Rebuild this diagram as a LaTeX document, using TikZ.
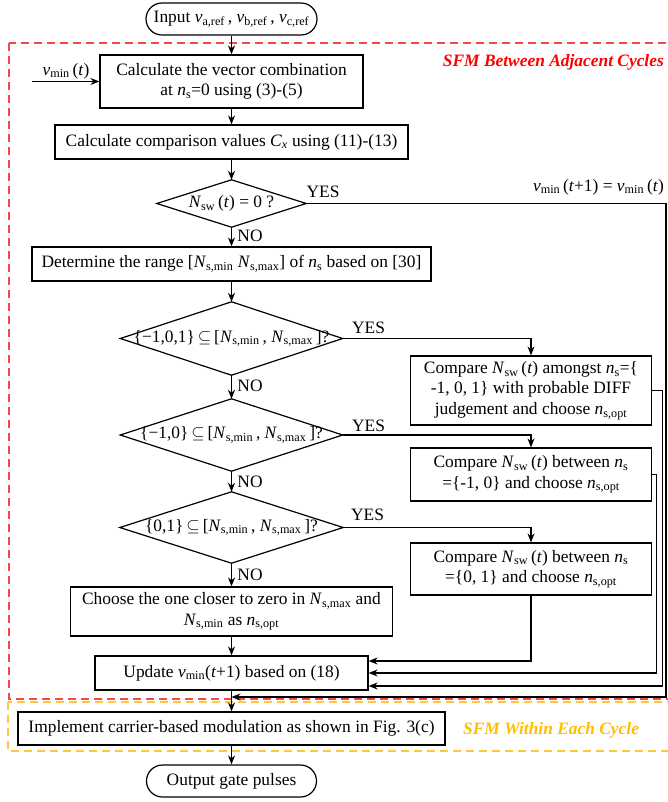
\documentclass[tikz,border=0pt]{standalone}
\usepackage{fontspec}
\setmainfont{Liberation Serif}
\usetikzlibrary{arrows.meta}
\definecolor{sfmred}{RGB}{255,0,0}
\definecolor{sfmredline}{RGB}{250,70,70}
\definecolor{sfmyel}{RGB}{255,190,0}
\definecolor{sfmyelline}{RGB}{255,200,60}
\newcommand{\ivar}[2]{\textit{#1}\textsubscript{#2}}
\begin{document}
\begin{tikzpicture}[x=1pt,y=-1pt,
  font=\fontsize{17.4}{20.5}\selectfont,
  box/.style={draw, line width=1.2pt, inner sep=0pt, align=center},
  term/.style={draw, line width=1.2pt, rounded corners=16pt, inner sep=0pt, minimum height=32pt},
  flow/.style={line width=1.2pt, -{Stealth[length=9pt,width=7pt]}},
  lab/.style={inner sep=0pt, align=center},
  dia/.style={line width=1.2pt},
  title/.style={inner sep=0pt, font=\fontsize{17.4}{20}\selectfont\bfseries\itshape}]
\useasboundingbox (0,0) rectangle (668,802);
\clip (0,0) rectangle (668,802);
% dashed regions
\draw[sfmredline, line width=1.1pt, dash pattern=on 8pt off 5pt] (9,43) rectangle (676,699);
\draw[sfmyelline, line width=1.1pt, dash pattern=on 8pt off 5pt] (8,702) rectangle (676,751);
\node[title, sfmred, anchor=east] (t1) at (664,62) {SFM Between Adjacent Cycles};
\node[title, sfmyel, anchor=west] (t2) at (463,730) {SFM Within Each Cycle};
% main column
\node[term, minimum width=171pt] (in) at (231.5,19) {Input \ivar{v}{a,ref}\,, \ivar{v}{b,ref}\,, \ivar{v}{c,ref}};
\node[box, minimum width=263pt, minimum height=53pt] (b1) at (231.5,81.5) {Calculate the vector combination\\at \ivar{n}{s}=0 using (3)-(5)};
\node[box, minimum width=353pt, minimum height=34pt] (b2) at (231.5,142) {Calculate comparison values \ivar{C}{\textit{x}} using (11)-(13)};
\node[lab, minimum width=149pt, minimum height=47pt] (d1) at (231.5,203.5) {\ivar{N}{sw}\,(\textit{t}) = 0 ?};
\draw[dia] (d1.north) -- (d1.east) -- (d1.south) -- (d1.west) -- cycle;
\node[box, minimum width=399pt, minimum height=34pt] (b3) at (231.5,264) {Determine the range [\ivar{N}{s,min} \ivar{N}{s,max}] of \ivar{n}{s} based on [30]};
\node[lab, minimum width=222pt, minimum height=73pt] (d2) at (231.5,338.5) {\{−1,0,1\}\,$\subseteq$\,[\ivar{N}{s,min}\,, \ivar{N}{s,max}\,]?};
\draw[dia] (d2.north) -- (d2.east) -- (d2.south) -- (d2.west) -- cycle;
\node[lab, minimum width=222pt, minimum height=72pt] (d3) at (231.5,435) {\{−1,0\}\,$\subseteq$\,[\ivar{N}{s,min}\,, \ivar{N}{s,max}\,]?};
\draw[dia] (d3.north) -- (d3.east) -- (d3.south) -- (d3.west) -- cycle;
\node[lab, minimum width=223pt, minimum height=71pt] (d4) at (231.5,527.5) {\{0,1\}\,$\subseteq$\,[\ivar{N}{s,min}\,, \ivar{N}{s,max}\,]?};
\draw[dia] (d4.north) -- (d4.east) -- (d4.south) -- (d4.west) -- cycle;
\node[box, minimum width=322pt, minimum height=49pt] (b4) at (231.5,611.5) {Choose the one closer to zero in \ivar{N}{s,max} and\\\ivar{N}{s,min} as \ivar{n}{s,opt}};
\node[box, minimum width=273pt, minimum height=34pt] (b5) at (231.5,673) {Update \ivar{v}{min}(\textit{t}+1) based on (18)};
\node[box, minimum width=427pt, minimum height=33pt] (b6) at (231.5,728.5) {Implement carrier-based modulation as shown in Fig. 3(c)};
\node[term, minimum width=170pt] (out) at (231.5,781) {Output gate pulses};
% right column
\node[box, minimum width=241pt, minimum height=69pt] (r1) at (531,390.5) {Compare \ivar{N}{sw}\,(\textit{t}) amongst \ivar{n}{s}=\{\\-1, 0, 1\} with probable DIFF\\judgement and choose \ivar{n}{s,opt}};
\node[box, minimum width=241pt, minimum height=53pt] (r2) at (531,474.5) {Compare \ivar{N}{sw}\,(\textit{t}) between \ivar{n}{s}\\=\{-1, 0\} and choose \ivar{n}{s,opt}};
\node[box, minimum width=241pt, minimum height=52pt] (r3) at (531,569) {Compare \ivar{N}{sw}\,(\textit{t}) between \ivar{n}{s}\\=\{0, 1\} and choose \ivar{n}{s,opt}};
% main flow
\draw[flow] (in.south) -- (b1.north);
\draw[flow] (b1.south) -- (b2.north);
\draw[flow] (b2.south) -- (d1.north);
\draw[flow] (d1.south) -- (b3.north);
\draw[flow] (b3.south) -- (d2.north);
\draw[flow] (d2.south) -- (d3.north);
\draw[flow] (d3.south) -- (d4.north);
\draw[flow] (d4.south) -- (b4.north);
\draw[flow] (b4.south) -- (b5.north);
\draw[flow] (b5.south) -- (b6.north);
\draw[flow] (b6.south) -- (out.north);
% input v_min(t)
\coordinate (vin) at (32,81.5);
\draw[flow] (vin) -- (b1.west);
\node[lab] (vinlab) at (66,71) {\ivar{v}{min}\,(\textit{t})};
% YES branches
\draw[flow] (d2.east) -| (r1.north);
\draw[flow] (d3.east) -| (r2.north);
\draw[flow] (d4.east) -| (r3.north);
% returns
\coordinate (j) at (231.5,697);
\coordinate (c1) at (666,697);
\draw[flow] (d1.east) -| (c1) -- (j);
\draw[flow] (r1.east) -- ++(10.5,0) |- ([yshift=-13pt]b5.east);
\draw[flow] (r2.east) -- ++(4,0) |- (b5.east);
\draw[flow] (r3.south) |- ([yshift=12pt]b5.east);
% labels
\node[lab] (y1) at (323,192) {YES};
\node[lab] (y2) at (368.5,328) {YES};
\node[lab] (y3) at (368.5,426) {YES};
\node[lab] (y4) at (367.5,515) {YES};
\node[lab] (n1) at (250,236) {NO};
\node[lab] (n2) at (250,386) {NO};
\node[lab] (n3) at (250,482) {NO};
\node[lab] (n4) at (250,575) {NO};
\node[lab, anchor=east] (vlab) at (664,187) {\ivar{v}{min}\,(\textit{t}+1) = \ivar{v}{min}\,(\textit{t})};
\end{tikzpicture}
\end{document}
